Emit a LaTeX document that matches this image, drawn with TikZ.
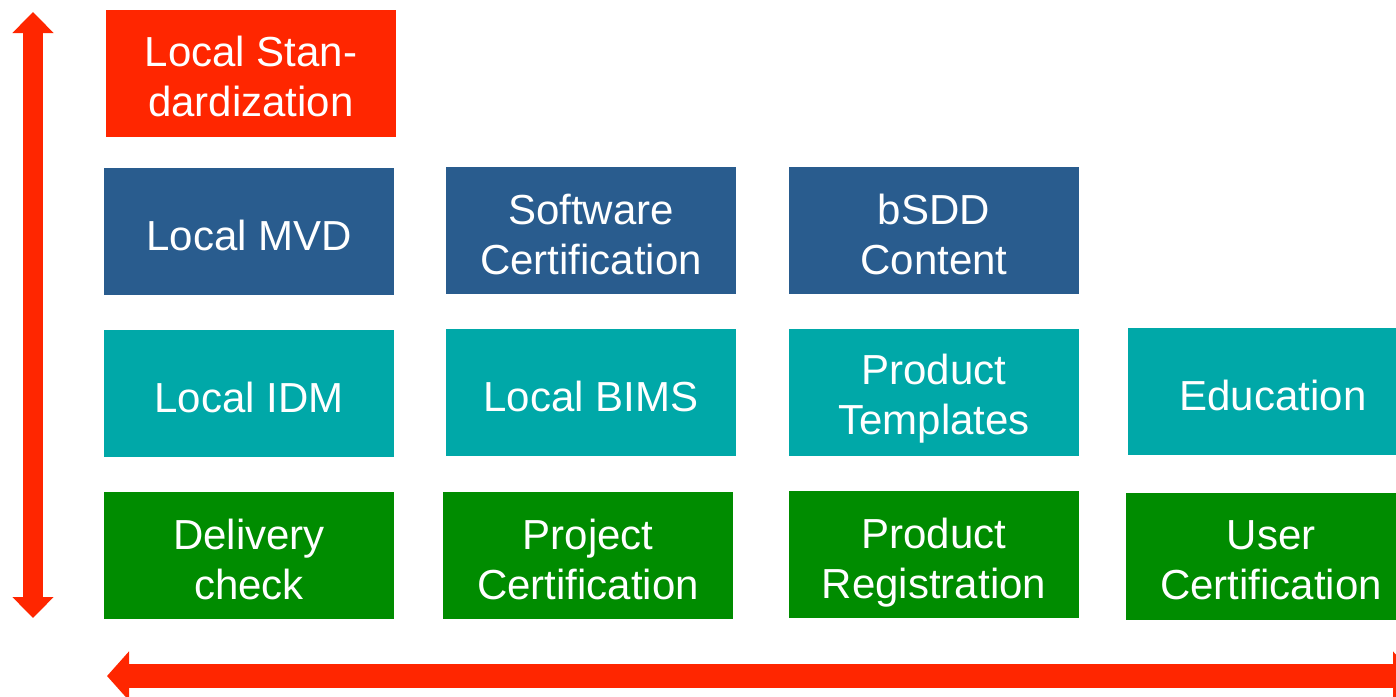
\documentclass[tikz,border=0pt]{standalone}
\usepackage{fontspec}
\setmainfont{Liberation Sans}
\usetikzlibrary{arrows.meta}

\definecolor{stdred}{RGB}{255,38,0}
\definecolor{mvdblue}{RGB}{41,92,142}
\definecolor{idmteal}{RGB}{0,168,168}
\definecolor{certgreen}{RGB}{0,140,0}

\begin{document}
\begin{tikzpicture}
[x=1pt,y=-1pt,%
  boxdecorate/.style={shape=rectangle,minimum width=290pt,minimum height=127pt,inner sep=0pt},%
  textdecorate/.style={text=white,align=center,font=\fontsize{42}{50}\selectfont},%
  arrowdecorate/.style={draw=stdred,line width=#1}]
\useasboundingbox (0,0) rectangle (1396,696);
\clip (0,0) rectangle (1396,696);
%% boxes, one row per level
%% top:    local standardization
%% then:   MVD / software / bSDD
%% then:   IDM / BIMS / templates / education
%% bottom: checks and certifications
%% (\d is how far the text sits below the box centre)
\node (std) at (251,73) [boxdecorate,fill=stdred] {};
\node (stdtext) at (251,76) [textdecorate] {Local Stan-\\dardization};
\foreach \nodename/\x/\y/\d/\label in {
mvd/249/231.5/4/{Local MVD}, swcert/591/230.5/4/{Software\\Certification}, bsdd/934/230.5/4/{bSDD\\Content}}
{
  \node (\nodename) at (\x,\y) [boxdecorate,fill=mvdblue] {};
  \node (\nodename text) at (\x,\y+\d) [textdecorate] {\label};
}
\foreach \nodename/\x/\y/\d/\label in {
idm/249/393.5/4/{Local IDM}, bims/591/392.5/4/{Local BIMS}, ptempl/934/392.5/6/{Product\\Templates}, edu/1273/391.5/4/{Education}}
{
  \node (\nodename) at (\x,\y) [boxdecorate,fill=idmteal] {};
  \node (\nodename text) at (\x,\y+\d) [textdecorate] {\label};
}
\foreach \nodename/\x/\y/\d/\label in {
delivery/249/555.5/4/{Delivery\\check}, projcert/588/555.5/4/{Project\\Certification}, preg/934/554.5/8/{Product\\Registration}, usercert/1271/556/4/{User\\Certification}}
{
  \node (\nodename) at (\x,\y) [boxdecorate,fill=certgreen] {};
  \node (\nodename text) at (\x,\y+\d) [textdecorate] {\label};
}
%% the two double arrows
\coordinate (vtop) at (33,12);
\coordinate (vbot) at (33,618);
\coordinate (hleft) at (107,676);
\coordinate (hright) at (1415,676);
\draw[arrowdecorate=20pt,{Triangle[width=40pt,length=21pt]}-{Triangle[width=40pt,length=21pt]}] (vtop) -- (vbot);
\draw[arrowdecorate=24pt,{Triangle[width=48pt,length=22pt]}-{Triangle[width=48pt,length=22pt]}] (hleft) -- (hright);
\end{tikzpicture}
\end{document}
